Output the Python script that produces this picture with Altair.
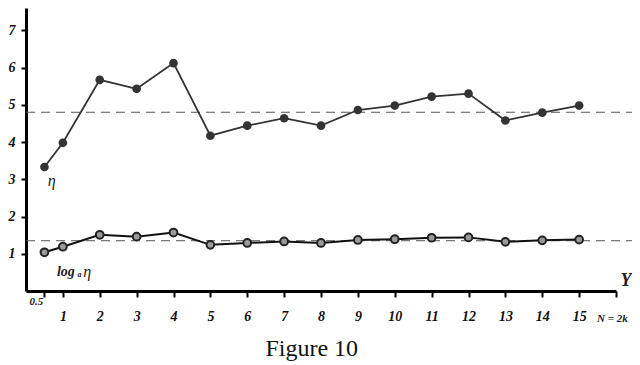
import altair as alt
import pandas as pd

n_vals = [0.5, 1, 2, 3, 4, 5, 6, 7, 8, 9, 10, 11, 12, 13, 14, 15]
eta = [3.33, 3.98, 5.67, 5.43, 6.12, 4.17, 4.44, 4.64, 4.44, 4.86, 4.98, 5.22, 5.30, 4.58, 4.79, 4.98]
log_eta = [1.04, 1.19, 1.51, 1.46, 1.57, 1.24, 1.29, 1.33, 1.29, 1.37, 1.39, 1.43, 1.44, 1.32, 1.36, 1.38]
ref_levels = [4.80, 1.35]
x_ticks = [0.5] + list(range(1, 17))
x_labels = ["", "1", "2", "3", "4", "5", "6", "7", "8", "9", "10", "11", "12", "13", "14", "15", ""]
y_ticks = [1, 2, 3, 4, 5, 6, 7]

W, H = 590, 283
PAD_L, PAD_R, PAD_B = 18, 16, 72
df = pd.DataFrame({"N": n_vals, "eta": eta, "log": log_eta})
refs = pd.DataFrame({"level": ref_levels})

xs = alt.Scale(domain=[0, 16], nice=False, zero=False)
ys = alt.Scale(domain=[0, 7.6], nice=False)

label_map = "{" + ",".join(f"'{v}':'{l}'" for v, l in zip(x_ticks, x_labels)) + "}"
xaxis = alt.Axis(values=x_ticks, title=None, grid=False,
                 labelExpr=f"{label_map}[''+datum.value]",
                 labelPadding=12, labelFlush=False, labelOverlap=False, labelBound=False,
                 labelSeparation=0, tickCount=17)
yaxis = alt.Axis(values=y_ticks, title=None, grid=False, labelPadding=6, tickSize=5,
                 labelOverlap=False)

def X(field):
    return alt.X(field, scale=xs, axis=xaxis)

def Y(field):
    return alt.Y(field, scale=ys, axis=yaxis)

base = alt.Chart(df)
up_line = base.mark_line(color="#333333", strokeWidth=1.8).encode(x=X("N:Q"), y=Y("eta:Q"))
up_pts = base.mark_point(filled=True, color="#333333", size=75, opacity=1).encode(
    x=X("N:Q"), y=Y("eta:Q"))
lo_line = base.mark_line(color="#111111", strokeWidth=2).encode(x=X("N:Q"), y=Y("log:Q"))
lo_pts = base.mark_point(filled=True, fill="#9a9a9a", stroke="#222222", strokeWidth=2,
                         size=60, opacity=1).encode(x=X("N:Q"), y=Y("log:Q"))

rules = alt.Chart(refs).mark_rule(color="#555555", strokeDash=[9, 6], strokeWidth=1).encode(
    y=Y("level:Q"), x=alt.value(0), x2=alt.value(W + PAD_R))

ann = pd.DataFrame({
    "x": [15.9, 16.27, 0.28],
    "y": [-0.75, 0.28, -0.3],
    "t": ["N = 2k", "Y", "0.5"],
    "size": [11, 18, 11],
})
ann_text = alt.Chart(ann).mark_text(font="Liberation Serif", fontStyle="italic",
                                    fontWeight="bold", color="#222222").encode(
    x=X("x:Q"), y=Y("y:Q"), text="t:N",
    size=alt.Size("size:Q", scale=None, legend=None))

eta_df = pd.DataFrame({"x": [0.7, 1.66], "y": [2.95, 0.52], "t": ["η", "η"]})
eta_txt = alt.Chart(eta_df).mark_text(font="Liberation Serif", fontStyle="italic",
                                      fontSize=16, color="#222222").encode(
    x=X("x:Q"), y=Y("y:Q"), text="t:N")

log_df = pd.DataFrame({"x": [1.08], "y": [0.52], "t": ["log"]})
log_txt = alt.Chart(log_df).mark_text(font="Liberation Serif", fontStyle="italic",
                                      fontWeight="bold", fontSize=14, color="#222222").encode(
    x=X("x:Q"), y=Y("y:Q"), text="t:N")
sub_df = pd.DataFrame({"x": [1.45], "y": [0.44], "t": ["a"]})
sub_txt = alt.Chart(sub_df).mark_text(font="Liberation Serif", fontStyle="italic",
                                      fontWeight="bold", fontSize=8, color="#222222").encode(
    x=X("x:Q"), y=Y("y:Q"), text="t:N")

fig_df = pd.DataFrame({"x": [7.75], "y": [-1.74], "t": ["Figure 10"]})
fig_txt = alt.Chart(fig_df).mark_text(font="Liberation Serif", fontSize=24,
                                      baseline="alphabetic", color="#111111").encode(
    x=X("x:Q"), y=Y("y:Q"), text="t:N")

chart = alt.layer(rules, up_line, up_pts, lo_line, lo_pts, ann_text, eta_txt, log_txt,
                  sub_txt, fig_txt).properties(
    width=W, height=H,
    autosize=alt.AutoSizeParams(type="none"),
    padding={"left": PAD_L, "top": 0, "right": PAD_R, "bottom": PAD_B},
).configure_view(stroke=None).configure_axis(
    domainColor="black", domainWidth=3, tickColor="black", tickWidth=2, tickSize=6,
    labelFont="Liberation Serif", labelFontStyle="italic", labelFontWeight="bold",
    labelFontSize=14, labelColor="#111111", labelOverlap=False,
)

chart.save("out.html", embed_options={"renderer": "svg", "actions": False})
